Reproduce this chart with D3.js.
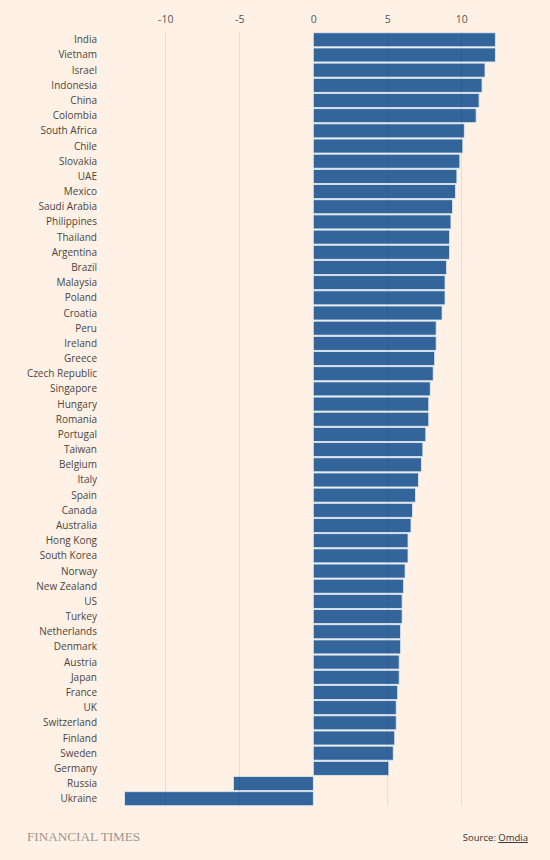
<!DOCTYPE html>
<html>
<head>
<meta charset="utf-8">
<script src="https://cdn.jsdelivr.net/npm/d3@7/dist/d3.min.js"></script>
<style>
  html, body { margin: 0; padding: 0; background: #fff1e5; }
  svg { display: block; }
</style>
</head>
<body>
<svg id="chart" width="550" height="860"></svg>
<script>
const countries = ["India","Vietnam","Israel","Indonesia","China","Colombia","South Africa","Chile","Slovakia","UAE","Mexico","Saudi Arabia","Philippines","Thailand","Argentina","Brazil","Malaysia","Poland","Croatia","Peru","Ireland","Greece","Czech Republic","Singapore","Hungary","Romania","Portugal","Taiwan","Belgium","Italy","Spain","Canada","Australia","Hong Kong","South Korea","Norway","New Zealand","US","Turkey","Netherlands","Denmark","Austria","Japan","France","UK","Switzerland","Finland","Sweden","Germany","Russia","Ukraine"];
const values = [12.3,12.3,11.6,11.4,11.2,11.0,10.2,10.1,9.9,9.7,9.6,9.4,9.3,9.2,9.2,9.0,8.9,8.9,8.7,8.3,8.3,8.2,8.1,7.9,7.8,7.8,7.6,7.4,7.3,7.1,6.9,6.7,6.6,6.4,6.4,6.2,6.1,6.0,6.0,5.9,5.9,5.8,5.8,5.7,5.6,5.6,5.5,5.4,5.1,-5.4,-12.75];
const ticks = [-10,-5,0,5,10];
const sourceLabel = "Source: ";
const sourceLink = "Omdia";
const brand = "FINANCIAL TIMES";

const data = countries.map((c,i)=>({country:c, value:values[i]}));
const svg = d3.select("#chart");
const W = 550, H = 860;
svg.append("rect").attr("width",W).attr("height",H).attr("fill","#fff1e5");

const x = d3.scaleLinear().domain([-13,13]).range([120.9,505.7]);
const y = d3.scaleBand().domain(countries).range([32.5,806]).paddingInner(0.08).paddingOuter(0.02);

// bars
svg.append("g").selectAll("rect").data(data).join("rect")
  .attr("x", d=>x(Math.min(0,d.value)))
  .attr("y", d=>y(d.country))
  .attr("width", d=>Math.abs(x(d.value)-x(0)))
  .attr("height", y.bandwidth())
  .attr("fill","#33649a")
  .attr("stroke","#dce9f4")
  .attr("stroke-width",0.8);

// gridlines (drawn over bars, translucent)
svg.append("g").selectAll("line").data(ticks.filter(t=>t!==0)).join("line")
  .attr("x1", d=>Math.round(x(d))+0.5).attr("x2", d=>Math.round(x(d))+0.5)
  .attr("y1", 32).attr("y2", 806)
  .attr("stroke","rgba(80,40,10,0.1)").attr("stroke-width",1);

// top axis
const axis = d3.axisTop(x).tickValues(ticks).tickSize(0).tickPadding(0)
  .tickFormat(d=>d3.format("d")(d).replace("−","-"));
const ga = svg.append("g").attr("transform","translate(0,23)").call(axis);
ga.select(".domain").remove();
ga.selectAll("text").attr("font-family","'Open Sans', sans-serif").attr("font-size",10.5)
  .attr("font-weight",400).attr("fill","#5a5450");

// category labels
svg.append("g").selectAll("text").data(data).join("text")
  .attr("x", 97)
  .attr("y", d=>y(d.country)+y.bandwidth()/2)
  .attr("dy","0.35em")
  .attr("text-anchor","end")
  .attr("font-family","'Open Sans', sans-serif")
  .attr("font-size",10)
  .attr("font-weight",400)
  .attr("fill","#4a4542")
  .text(d=>d.country);

// footer
svg.append("text").attr("x",27).attr("y",841)
  .attr("font-family","'Liberation Serif', 'DejaVu Serif', serif")
  .attr("font-size",13.2).attr("fill","#a0958c")
  .text(brand);

const src = svg.append("text").attr("x",528).attr("y",841).attr("text-anchor","end")
  .attr("font-family","'Open Sans', sans-serif").attr("font-size",9.5).attr("font-weight",400).attr("fill","#33302e");
src.append("tspan").text(sourceLabel);
src.append("tspan").attr("text-decoration","underline").text(sourceLink);
</script>
</body>
</html>
